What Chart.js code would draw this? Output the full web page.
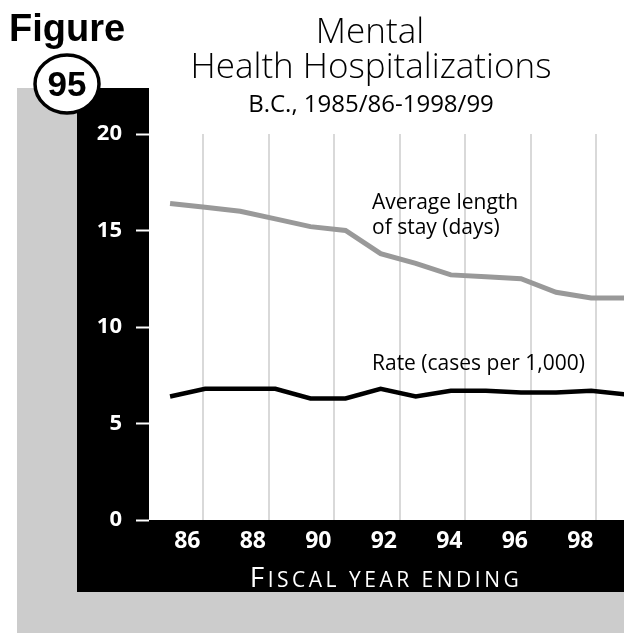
<!DOCTYPE html>
<html>
<head>
<meta charset="utf-8">
<script src="https://cdn.jsdelivr.net/npm/chart.js@4.4.1/dist/chart.umd.min.js"></script>
<style>
  html, body { margin: 0; padding: 0; background: #fff; }
  #wrap { position: relative; width: 624px; height: 633px; }
</style>
</head>
<body>
<div id="wrap"><canvas id="chart"></canvas></div>
<script>
// fiscal year ending (1985/86 .. 1998/99)
const years      = [86, 87, 88, 89, 90, 91, 92, 93, 94, 95, 96, 97, 98, 99]
const stayDays   = [16.4, 16.2, 16.0, 15.6, 15.2, 15.0, 13.8, 13.3, 12.7, 12.6, 12.5, 11.8, 11.5, 11.5]
const ratePer1k  = [6.4, 6.8, 6.8, 6.8, 6.3, 6.3, 6.8, 6.4, 6.7, 6.7, 6.6, 6.6, 6.7, 6.5]
const yearTicks  = [86, 88, 90, 92, 94, 96, 98]
const valueTicks = [0, 5, 10, 15, 20]

const SANS = '"Open Sans", sans-serif'

const backdrop = {
  id: 'backdrop',
  beforeDraw(chart) {
    const { ctx, width, height } = chart
    const { left, top, right, bottom } = chart.chartArea
    ctx.save()
    ctx.fillStyle = '#cccccc'
    ctx.fillRect(left - 132, top - 46, width, height)
    ctx.fillStyle = '#000'
    ctx.fillRect(left - 72, top - 46, right - left + 72, bottom - top + 118)
    ctx.fillStyle = '#fff'
    ctx.fillRect(left, top - 46, right - left, bottom - top + 46)
    ctx.restore()
  },
  afterDraw(chart) {
    const { ctx } = chart
    const { bottom } = chart.chartArea
    ctx.save()

    // figure badge
    ctx.fillStyle = '#000'
    ctx.font = 'bold 38px "Liberation Sans", Arial, sans-serif'
    ctx.textAlign = 'left'
    ctx.textBaseline = 'alphabetic'
    ctx.fillText('Figure', 9, 41)

    ctx.beginPath()
    ctx.ellipse(67, 84, 32, 29, 0, 0, Math.PI * 2)
    ctx.fillStyle = '#fff'
    ctx.fill()
    ctx.lineWidth = 3.5
    ctx.strokeStyle = '#000'
    ctx.stroke()
    ctx.fillStyle = '#000'
    ctx.textAlign = 'center'
    ctx.textBaseline = 'middle'
    ctx.font = 'bold 35px "Liberation Sans", Arial, sans-serif'
    ctx.fillText('95', 67, 86)

    // title
    ctx.textBaseline = 'alphabetic'
    ctx.font = '300 35px ' + SANS
    ctx.fillText('Mental', 370, 43)
    ctx.fillText('Health Hospitalizations', 371, 78)
    ctx.font = '400 24px ' + SANS
    ctx.fillText('B.C., 1985/86-1998/99', 371, 112)

    // series labels
    ctx.textAlign = 'left'
    ctx.font = '400 21px ' + SANS
    ctx.fillText('Average length', 372, 209)
    ctx.fillText('of stay (days)', 372, 234)
    ctx.fillText('Rate (cases per 1,000)', 372, 370)

    // axis title in small caps
    ctx.fillStyle = '#fff'
    ctx.letterSpacing = '3.5px'
    ctx.font = '400 28px ' + SANS
    const big = 'F'
    const rest = 'ISCAL YEAR ENDING'
    const wBig = ctx.measureText(big).width
    ctx.font = '400 21px ' + SANS
    const wRest = ctx.measureText(rest).width
    const x = 386 - (wBig + wRest) / 2
    ctx.font = '400 28px ' + SANS
    ctx.fillText(big, x, bottom + 67)
    ctx.font = '400 21px ' + SANS
    ctx.fillText(rest, x + wBig, bottom + 67)

    ctx.restore()
  }
}

const points = vals => years.map((y, i) => ({ x: y, y: vals[i] }))

new Chart(document.getElementById('chart'), {
  type: 'line',
  data: {
    datasets: [{
      label:       'Average length of stay (days)',
      data:        points(stayDays),
      borderColor: '#999999',
      borderWidth: 5,
      pointRadius: 0,
      tension:     0,
    }, {
      label:       'Rate (cases per 1,000)',
      data:        points(ratePer1k),
      borderColor: '#000000',
      borderWidth: 4.5,
      pointRadius: 0,
      tension:     0,
    }],
  },
  options: {
    responsive:          true,
    maintainAspectRatio: false,
    animation:           false,
    layout: { padding: { top: 134, left: 0, right: 0, bottom: 0 } },
    plugins: {
      legend:  { display: false },
      tooltip: { enabled: false },
    },
    scales: {
      x: { type: 'linear', display: false, min: 85.4, max: 98.935 },
      years: {
        type: 'linear', position: 'bottom', min: 84.342, max: 98.846,
        afterBuildTicks: s => { s.ticks = yearTicks.map(v => ({ value: v })) },
        afterFit: s => { s.height = 113 },
        grid:   { color: '#d9d9d9', lineWidth: 2, drawTicks: false },
        border: { display: false },
        ticks:  {
          color: '#fff', padding: 8, labelOffset: -16, maxRotation: 0, autoSkip: false,
          font: { family: SANS, weight: 'bold', size: 23 },
          callback: v => String(v),
        },
      },
      y: {
        min: 0, max: 20,
        afterBuildTicks: s => { s.ticks = valueTicks.map(v => ({ value: v })) },
        afterFit: s => { s.width = 149 },
        grid:   { drawOnChartArea: false, tickLength: 13, tickColor: '#fff', tickWidth: 2 },
        border: { display: false },
        ticks:  { color: '#fff', padding: 14, font: { family: SANS, weight: 'bold', size: 22 } },
      },
    },
  },
  plugins: [backdrop],
})
</script>
</body>
</html>
